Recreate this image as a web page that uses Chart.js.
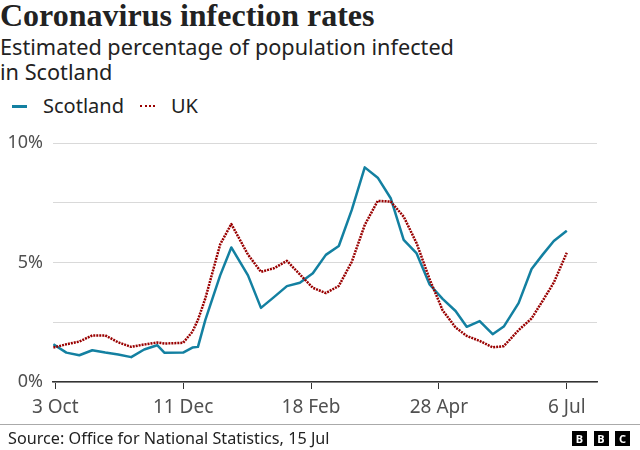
<!DOCTYPE html>
<html><head><meta charset="utf-8">
<script src="https://cdn.jsdelivr.net/npm/chart.js@4"></script>
<style>
body{margin:0;background:#fff;}
#wrap{position:relative;width:640px;height:450px;overflow:hidden;font-family:'Noto Sans',sans-serif;color:#222;background:#fff;}
#title{position:absolute;left:0;top:-3px;font-family:'Liberation Serif',serif;font-weight:bold;font-size:32px;line-height:36px;white-space:nowrap;}
#sub{position:absolute;left:0;top:34px;font-size:21.7px;line-height:25px;color:#222;white-space:nowrap;}
#legend{position:absolute;left:12px;top:92px;font-size:20px;line-height:28px;display:flex;align-items:center;}
.sw{display:inline-block;width:15px;height:0;margin-right:16px;}
#rule{position:absolute;left:0;top:424px;width:640px;height:1px;background:#aaa;}
#src{position:absolute;left:8px;top:428px;font-size:16.2px;line-height:20px;white-space:nowrap;}
#logo{position:absolute;left:572px;top:431px;display:flex;gap:6.5px;}
#logo span{display:inline-block;width:15px;height:15px;background:#000;color:#fff;font:bold 11px/15px 'Noto Sans',sans-serif;text-align:center;}
canvas{position:absolute;left:0;top:120px;}
</style></head>
<body><div id="wrap">
<div id="title">Coronavirus infection rates</div>
<div id="sub">Estimated percentage of population infected<br>in Scotland</div>
<div id="legend"><span class="sw" style="border-top:3px solid #1380A1"></span><span style="margin-right:16px">Scotland</span><span class="sw" style="border-top:2px dotted #990000"></span><span>UK</span></div>
<canvas id="c" width="640" height="330"></canvas>
<div id="rule"></div>
<div id="src">Source: Office for National Statistics, 15 Jul</div>
<div id="logo"><span>B</span><span>B</span><span>C</span></div>
</div>
<script>
const dates = ['2021-10-02','2021-10-09','2021-10-16','2021-10-23','2021-10-30','2021-11-06','2021-11-13','2021-11-20','2021-11-27','2021-12-01',
 '2021-12-11','2021-12-16','2021-12-19','2021-12-23','2021-12-31','2022-01-06','2022-01-15','2022-01-22','2022-01-29','2022-02-05',
 '2022-02-12','2022-02-19','2022-02-26','2022-03-05','2022-03-12','2022-03-19','2022-03-26','2022-04-02','2022-04-09','2022-04-16',
 '2022-04-23','2022-04-30','2022-05-07','2022-05-13','2022-05-20','2022-05-27','2022-06-02','2022-06-10','2022-06-17','2022-06-23',
 '2022-06-29','2022-07-06'];
const scotland = [1.58,1.23,1.12,1.33,1.23,1.15,1.04,1.36,1.54,1.22,
 1.23,1.44,1.47,2.6,4.46,5.63,4.46,3.10,3.55,4.01,
 4.15,4.55,5.32,5.69,7.2,8.98,8.55,7.69,5.95,5.38,
 4.08,3.48,2.97,2.31,2.55,2.0,2.32,3.3,4.73,5.33,
 5.9,6.33];
const uk = [1.44,1.58,1.69,1.95,1.95,1.66,1.47,1.57,1.65,1.61,
 1.64,2.1,2.6,3.5,5.76,6.61,5.33,4.61,4.76,5.07,
 4.5,3.94,3.72,4.02,5.03,6.57,7.58,7.55,6.92,5.8,
 4.3,3.0,2.28,1.93,1.72,1.45,1.5,2.17,2.66,3.4,
 4.16,5.41];
const tickDates = ['2021-10-03','2021-12-11','2022-02-18','2022-04-28','2022-07-06'];
const tickLabels = ['3 Oct','11 Dec','18 Feb','28 Apr','6 Jul'];
const yTickValues = [0,2.5,5,7.5,10];
const yTickLabels = ['0%','','5%','','10%'];

const origin = Date.UTC(2021,9,3);
const dayOf = s => { const p = s.split('-').map(Number); return (Date.UTC(p[0],p[1]-1,p[2]) - origin)/86400000; };
const xs = dates.map(dayOf);
const tickDays = tickDates.map(dayOf);

new Chart(document.getElementById('c'), {
  type: 'line',
  data: { datasets: [
    { label:'UK', data: xs.map((x,i)=>({x, y: uk[i]})), borderColor:'#990000', borderWidth:2.5, borderDash:[2,1], pointRadius:0, tension:0, borderJoinStyle:'round' },
    { label:'Scotland', data: xs.map((x,i)=>({x, y: scotland[i]})), borderColor:'#1380A1', borderWidth:2.5, pointRadius:0, tension:0, borderJoinStyle:'round' }
  ]},
  options: {
    responsive:false, animation:false, devicePixelRatio:1,
    layout:{ padding:{ left:0, right:43, top:23, bottom:28 } },
    plugins:{ legend:{display:false}, tooltip:{enabled:false} },
    scales:{
      x:{ type:'linear', min:-1.2, max:292.3,
        afterBuildTicks: a => { a.ticks = tickDays.map(v=>({value:v})); },
        afterFit: a => { a.height = 40; },
        ticks:{ callback:(v,i)=>tickLabels[i], font:{family:'Noto Sans', size:19}, color:'#505050', padding:7, maxRotation:0, autoSkip:false },
        grid:{ drawOnChartArea:false, drawTicks:true, tickLength:7, color:'#333', lineWidth:1 },
        border:{ color:'#333', width:1.5 }
      },
      y:{ min:0, max:10,
        afterBuildTicks: a => { a.ticks = yTickValues.map(v=>({value:v})); },
        afterFit: a => { a.width = 53; },
        ticks:{ callback:(v,i)=>yTickLabels[i], font:{family:'Noto Sans', size:18}, color:'#505050', padding:10 },
        grid:{ color:'#d9d9d9', drawTicks:false, lineWidth:1 },
        border:{ display:false }
      }
    }
  }
});
</script>
</body></html>
